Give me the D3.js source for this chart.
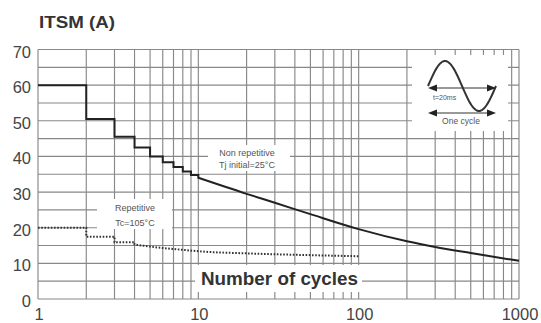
<!DOCTYPE html>
<html lang="en">
<head>
    <meta charset="UTF-8">
    <title>ITSM vs number of cycles</title>
    <script src="https://cdn.jsdelivr.net/npm/d3@7"></script>
    <style>
        body { margin: 0; background: #fff; }
        svg { display: block; }
        text { font-family: "Liberation Sans", Arial, sans-serif; }
        .grid line { stroke: #888; stroke-width: 1.15; }
        .tick-label { font-size: 16.5px; fill: #444; }
        .note { font-size: 9px; fill: #555; }
    </style>
</head>
<body>
    <script>
        // chart values
        const nonRepStepX = [1, 2, 3, 4, 5, 6, 7, 8, 9, 10];
        const nonRepStepY = [60, 50.5, 45.5, 42.5, 40, 38.4, 37, 35.8, 34.8, 34];
        const nonRepCurveX = [10, 20, 30, 50, 100, 200, 300, 500, 1000];
        const nonRepCurveY = [34, 29.5, 27, 23.8, 19.6, 16.2, 14.6, 12.9, 10.7];

        const repStepX = [1, 2, 3, 4];
        const repStepY = [20, 17.5, 15.9, 15.3];
        const repCurveX = [4, 5, 6, 8, 10, 20, 50, 100];
        const repCurveY = [15.3, 14.7, 14.3, 13.8, 13.4, 12.8, 12.3, 12.0];

        const yTicks = [0, 10, 20, 30, 40, 50, 60, 70];
        const xTicks = [1, 10, 100, 1000];

        const width = 541, height = 323;
        const margin = { top: 49.5, right: 22, bottom: 24, left: 38 };

        const svg = d3.select("body").append("svg")
            .attr("width", width)
            .attr("height", height);

        const x = d3.scaleLog().domain([1, 1000]).range([margin.left, width - margin.right]);
        const y = d3.scaleLinear().domain([0, 70]).range([height - margin.bottom, margin.top]);

        // grid: every integer in each decade, every 5 A
        const vLines = [];
        for (let d = 1; d < 1000; d *= 10) {
            for (let k = 1; k <= 10; k++) vLines.push(d * k);
        }
        const hLines = d3.range(0, 71, 5);

        const grid = svg.append("g").attr("class", "grid");
        grid.selectAll(".v").data(Array.from(new Set(vLines))).enter().append("line")
            .attr("x1", d => x(d)).attr("x2", d => x(d))
            .attr("y1", y(70)).attr("y2", y(0));
        grid.selectAll(".h").data(hLines).enter().append("line")
            .attr("x1", x(1)).attr("x2", x(1000))
            .attr("y1", d => y(d)).attr("y2", d => y(d));

        // white boxes behind the notes cut the grid
        const boxes = [
            { x0: 208, x1: 290, y0: 145, y1: 171 },
            { x0: 97, x1: 172, y0: 199, y1: 229 },
            { x0: 195, x1: 362, y0: 265, y1: 292 },
            { x0: 412, x1: 508, y0: 55, y1: 131 }
        ];
        svg.selectAll(".box").data(boxes).enter().append("rect")
            .attr("x", d => d.x0).attr("y", d => d.y0)
            .attr("width", d => d.x1 - d.x0).attr("height", d => d.y1 - d.y0)
            .attr("fill", "#fff");

        // axis labels
        svg.selectAll(".ylab").data(yTicks).enter().append("text")
            .attr("class", "tick-label")
            .attr("x", 31).attr("y", d => y(d) + 2)
            .attr("text-anchor", "end")
            .attr("dominant-baseline", "central")
            .text(d => d);
        svg.selectAll(".xlab").data(xTicks).enter().append("text")
            .attr("class", "tick-label")
            .attr("x", d => x(d) + 1).attr("y", 320)
            .attr("text-anchor", "middle")
            .text(d => d);

        svg.append("text")
            .attr("x", 39).attr("y", 28)
            .attr("font-size", 17).attr("font-weight", "bold").attr("fill", "#333")
            .attr("textLength", 76).attr("lengthAdjust", "spacingAndGlyphs")
            .text("ITSM (A)");

        svg.append("text")
            .attr("x", 201).attr("y", 285)
            .attr("font-size", 19).attr("font-weight", "bold").attr("fill", "#333")
            .attr("textLength", 157).attr("lengthAdjust", "spacingAndGlyphs")
            .text("Number of cycles");

        const notes = [
            { t: "Non repetitive", cx: 247, cy: 156 },
            { t: "Tj initial=25°C", cx: 247, cy: 168 },
            { t: "Repetitive", cx: 135, cy: 211 },
            { t: "Tc=105°C", cx: 135, cy: 226 }
        ];
        svg.selectAll(".note").data(notes).enter().append("text")
            .attr("class", "note")
            .attr("x", d => d.cx).attr("y", d => d.cy)
            .attr("text-anchor", "middle")
            .text(d => d.t);

        // curves
        const toPts = (xs, ys) => xs.map((v, i) => [v, ys[i]]);
        const stepLine = d3.line().x(d => x(d[0])).y(d => y(d[1])).curve(d3.curveStepAfter);
        const smoothLine = d3.line().x(d => x(d[0])).y(d => y(d[1])).curve(d3.curveMonotoneX);

        // step data: last value holds until the next point
        const nonSteps = toPts(nonRepStepX, nonRepStepY);
        const repSteps = toPts(repStepX, repStepY);

        svg.append("path")
            .attr("d", stepLine(nonSteps) + smoothLine(toPts(nonRepCurveX, nonRepCurveY)).replace(/^M/, "L"))
            .attr("fill", "none").attr("stroke", "#222").attr("stroke-width", 2);

        svg.append("path")
            .attr("d", stepLine(repSteps) + smoothLine(toPts(repCurveX, repCurveY)).replace(/^M/, "L"))
            .attr("fill", "none").attr("stroke", "#333").attr("stroke-width", 2)
            .attr("stroke-dasharray", "1.6,1.6");

        // inset: one cycle of the sine wave
        const inset = svg.append("g");
        const sx0 = 428, sx1 = 496, mid = 86, amp = 25;
        const sine = d3.range(0, 1.0001, 0.02).map(t => [sx0 + t * (sx1 - sx0), mid - amp * Math.sin(2 * Math.PI * t)]);
        inset.append("path")
            .attr("d", d3.line()(sine))
            .attr("fill", "none").attr("stroke", "#333").attr("stroke-width", 2);

        function arrow(yy) {
            inset.append("line")
                .attr("x1", sx0 + 4).attr("x2", sx1 - 4)
                .attr("y1", yy).attr("y2", yy)
                .attr("stroke", "#333").attr("stroke-width", 1);
            inset.append("path")
                .attr("d", `M${sx0},${yy}L${sx0 + 9},${yy - 3.5}L${sx0 + 9},${yy + 3.5}Z`)
                .attr("fill", "#222");
            inset.append("path")
                .attr("d", `M${sx1},${yy}L${sx1 - 9},${yy - 3.5}L${sx1 - 9},${yy + 3.5}Z`)
                .attr("fill", "#222");
        }
        arrow(88);
        arrow(113);

        inset.append("text").attr("x", 433).attr("y", 100)
            .attr("font-size", 7).attr("fill", "#555").text("t=20ms");
        inset.append("text").attr("x", 461).attr("y", 124)
            .attr("font-size", 8.5).attr("fill", "#555").attr("text-anchor", "middle").text("One cycle");
    </script>
</body>
</html>
